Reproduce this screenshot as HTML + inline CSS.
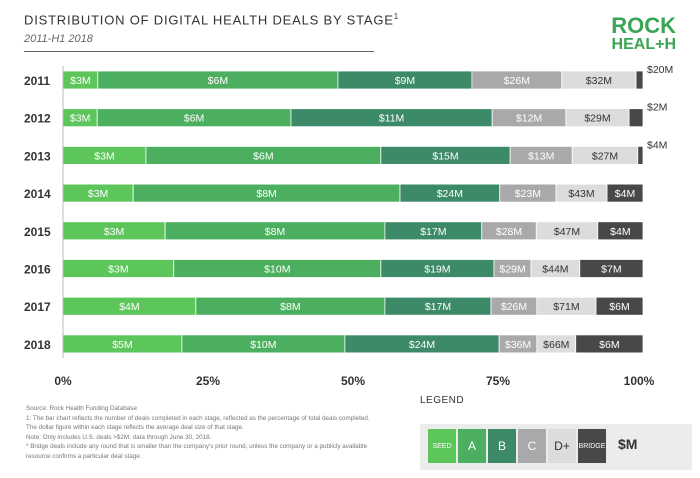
<!DOCTYPE html>
<html><head><meta charset="utf-8"><style>
body{margin:0;width:700px;height:478px;background:#fff;font-family:"Liberation Sans","Noto Sans CJK SC",sans-serif;position:relative;overflow:hidden}
.abs{position:absolute}
</style></head><body>
<div class="abs" style="left:24px;top:12px;font-size:13px;letter-spacing:0.8px;color:#333">DISTRIBUTION OF DIGITAL HEALTH DEALS BY STAGE<sup style="font-size:8px">1</sup></div>
<div class="abs" style="left:24px;top:33px;font-size:11px;font-style:italic;color:#666">2011-H1 2018</div>
<div class="abs" style="left:24px;top:51px;width:350px;height:1px;background:#666"></div>
<div class="abs" style="left:606px;top:16px;color:#3aa554;font-weight:bold;line-height:19px;text-align:right;width:70px"><div style="font-size:22px">ROCK</div><div style="font-size:16px">HEAL+H</div></div>
<svg id="chart" class="abs" style="left:0;top:0" width="700" height="400"></svg>
<div class="abs" style="left:26px;top:404px;font-size:6.3px;line-height:9.6px;color:#777;width:350px">Source: Rock Health Funding Database<br>1: The bar chart reflects the number of deals completed in each stage, reflected as the percentage of total deals completed. The dollar figure within each stage reflects the average deal size of that stage.<br>Note: Only includes U.S. deals &gt;$2M; data through June 30, 2018.<br>* Bridge deals include any round that is smaller than the company's prior round, unless the company or a publicly available resource confirms a particular deal stage.</div>
<div class="abs" style="left:420px;top:395px;font-size:10px;letter-spacing:0.5px;color:#333">LEGEND</div>
<div class="abs" style="left:420px;top:424px;width:272px;height:46px;background:#ececec"></div>
<div id="legend"></div>
<script>
const years=["2011","2012","2013","2014","2015","2016","2017","2018"];
const seed=[6.0,5.9,14.3,12.1,17.6,19.1,22.9,20.5];
const seriesA=[41.4,33.4,40.5,46.0,37.9,35.7,32.6,28.1];
const seriesB=[23.1,34.7,22.3,17.2,16.7,19.5,18.3,26.6];
const seriesC=[15.5,12.7,10.7,9.7,9.4,6.4,7.9,6.5];
const seriesD=[12.8,10.9,11.3,8.8,10.6,8.4,10.2,6.7];
const bridge=[1.2,2.4,0.9,6.2,7.8,10.9,8.1,11.6];
const labSeed=["$3M","$3M","$3M","$3M","$3M","$3M","$4M","$5M"];
const labA=["$6M","$6M","$6M","$8M","$8M","$10M","$8M","$10M"];
const labB=["$9M","$11M","$15M","$24M","$17M","$19M","$17M","$24M"];
const labC=["$26M","$12M","$13M","$23M","$28M","$29M","$26M","$36M"];
const labD=["$32M","$29M","$27M","$43M","$47M","$44M","$71M","$66M"];
const labBridge=["$20M","$2M","$4M","$4M","$4M","$7M","$6M","$6M"];
const ticks=[0,25,50,75,100];
const svg=document.getElementById('chart');const NS="http://www.w3.org/2000/svg";
const x0=63,x1=643;const xs=v=>x0+(x1-x0)*v/100;
const ys=i=>71+i*37.7;const bh=18;
function mk(t,a){const e=document.createElementNS(NS,t);for(const k in a)e.setAttribute(k,a[k]);svg.appendChild(e);return e;}
const series=[seed,seriesA,seriesB,seriesC,seriesD,bridge];
const labs=[labSeed,labA,labB,labC,labD,labBridge];
const names=["seed","a","b","c","d","bridge"];
const cols=["#5cc65a","#4caf5f","#3d8a69","#a9a9a9","#dcdcdc","#484848"];
const tcol=["#fff","#fff","#fff","#fff","#333","#fff"];
years.forEach((y,i)=>{
 const t=mk('text',{x:24,y:ys(i)+bh/2+5,'font-size':12,'font-weight':'bold',fill:'#333'});t.textContent=y;
 
 
 let acc=0;
 series.forEach((s,k)=>{
  const a=xs(acc),b=xs(acc+s[i]);acc+=s[i];
  const r=mk('rect',{x:a,y:ys(i),width:b-a,height:bh,fill:cols[k],stroke:'#fff','stroke-width':0.8});
  
  
  const inside=(b-a)>16;
  const tx=mk('text',{x:inside?(a+b)/2:b+4,y:inside?ys(i)+bh/2+4:ys(i)+2,'font-size':10.5,fill:inside?tcol[k]:'#333','text-anchor':inside?'middle':'start'});
  tx.textContent=labs[k][i];
  
  
 });
});
const ax=mk('line',{x1:x0,x2:x0,y1:66,y2:358,stroke:'#bbb','stroke-width':1});


ticks.forEach(v=>{const t=mk('text',{x:xs(v)-(v==100?4:0),y:385,'font-size':12,'font-weight':'bold',fill:'#333','text-anchor':'middle'});t.textContent=v+'%';
 
 });
const lg=document.getElementById('legend');
const lgl=["SEED","A","B","C","D+","BRIDGE"];
lgl.forEach((l,k)=>{const d=document.createElement('div');d.className='abs';
 d.style.cssText=`left:${428+k*30}px;top:429px;width:28px;height:34px;background:${cols[k]};color:${tcol[k]};font-size:${l.length>2?7:12}px;display:flex;align-items:center;justify-content:center`;
 d.textContent=l;
 
 
 lg.appendChild(d);});
const m=document.createElement('div');m.className='abs';m.style.cssText='left:618px;top:436px;font-size:14px;font-weight:bold;color:#333';m.textContent='$M';


lg.appendChild(m);
</script>
</body></html>
